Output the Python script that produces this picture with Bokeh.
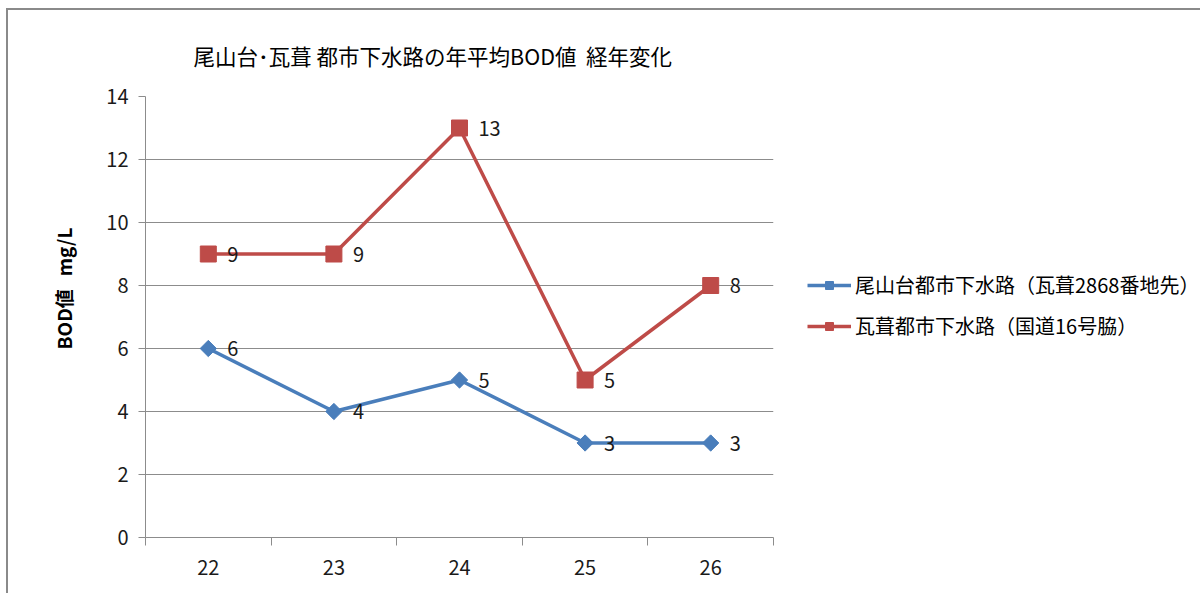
import math
from bokeh.plotting import figure
from bokeh.models import (ColumnDataSource, FixedTicker, Legend, LegendItem, Range1d)
from bokeh.embed import file_html
from bokeh.resources import INLINE
from bokeh.core.properties import value

years = [22, 23, 24, 25, 26]
series1_name = "尾山台都市下水路（瓦葺2868番地先）"
series1 = [6, 4, 5, 3, 3]
series2_name = "瓦葺都市下水路（国道16号脇）"
series2 = [9, 9, 13, 5, 8]
y_ticks = [0, 2, 4, 6, 8, 10, 12, 14]
title_text = "尾山台･瓦葺\u00a0都市下水路の年平均BOD値\u00a0\u00a0経年変化"
y_label = "\u3000\u3000\u3000BOD値\u00a0\u00a0\u00a0mg/L"

BLUE = "#4A7EBB"
RED = "#BE4B48"
FONT = "Noto Sans CJK JP"

p = figure(frame_width=628, frame_height=441, output_backend="svg", toolbar_location=None,
           x_range=Range1d(21.5, 26.5), y_range=Range1d(0, 14),
           min_border_left=137, min_border_right=420, min_border_top=86, min_border_bottom=56,
           styles={"border-left": "2px solid #8a8a8a", "border-top": "2px solid #8a8a8a",
                   "margin-left": "6px", "margin-top": "8px"})
p.outline_line_color = None
p.background_fill_color = "white"
p.border_fill_color = "white"

p.title.text = title_text
p.title.text_font = FONT
p.title.text_font_size = "21.5px"
p.title.text_font_style = "normal"
p.title.text_color = "#000000"
p.title.align = "left"
p.title.offset = 48
p.title.standoff = 52

# grids
p.xgrid.grid_line_color = None
p.ygrid.grid_line_color = "#8c8c8c"
p.ygrid.grid_line_width = 1

# y axis
p.yaxis.ticker = FixedTicker(ticks=y_ticks)
p.yaxis.axis_line_color = "#8c8c8c"
p.yaxis.major_tick_line_color = "#8c8c8c"
p.yaxis.major_tick_out = 7
p.yaxis.major_tick_in = 0
p.yaxis.minor_tick_line_color = None
p.yaxis.major_label_text_font = FONT
p.yaxis.major_label_text_font_size = "20px"
p.yaxis.major_label_text_color = "#1a1a1a"
p.yaxis.major_label_standoff = 10
p.yaxis.axis_label = y_label
p.yaxis.axis_label_text_font = FONT
p.yaxis.axis_label_text_font_size = "19px"
p.yaxis.axis_label_text_font_style = "bold"
p.yaxis.axis_label_text_color = "#000000"
p.yaxis.axis_label_standoff = 26

# x axis
bounds = [y - 0.5 for y in years] + [years[-1] + 0.5]
p.xaxis.ticker = FixedTicker(ticks=years, minor_ticks=bounds)
p.xaxis.axis_line_color = "#8c8c8c"
p.xaxis.major_tick_line_color = None
p.xaxis.major_tick_out = 0
p.xaxis.major_tick_in = 0
p.xaxis.minor_tick_line_color = "#8c8c8c"
p.xaxis.minor_tick_out = 8
p.xaxis.minor_tick_in = 0
p.xaxis.major_label_text_font = FONT
p.xaxis.major_label_text_font_size = "20px"
p.xaxis.major_label_text_color = "#1a1a1a"
p.xaxis.major_label_standoff = 14

src = ColumnDataSource(dict(x=years, s1=series1, s2=series2,
                            l1=[str(v) for v in series1], l2=[str(v) for v in series2]))

l1 = p.line("x", "s1", source=src, line_color=BLUE, line_width=3.5)
m1 = p.scatter("x", "s1", source=src, marker="square", size=11.5, angle=math.pi / 4,
               fill_color=BLUE, line_color=BLUE)
l2 = p.line("x", "s2", source=src, line_color=RED, line_width=3.5)
m2 = p.scatter("x", "s2", source=src, marker="square", size=16, fill_color=RED, line_color=RED)

p.text("x", "s1", text="l1", source=src, x_offset=19, text_baseline="middle", text_align="left",
       text_font=value(FONT), text_font_size="20px", text_color="#1a1a1a")
p.text("x", "s2", text="l2", source=src, x_offset=19, text_baseline="middle", text_align="left",
       text_font=value(FONT), text_font_size="20px", text_color="#1a1a1a")

legend = Legend(items=[LegendItem(label=series1_name, renderers=[l1, m1]),
                       LegendItem(label=series2_name, renderers=[l2, m2])],
                location=(34, 197), orientation="vertical")
legend.border_line_color = None
legend.background_fill_alpha = 0
legend.margin = 8
legend.padding = 8
legend.glyph_width = 44
legend.glyph_height = 20
legend.spacing = 12
legend.label_standoff = 4
legend.label_text_font = FONT
legend.label_text_font_size = "20px"
legend.label_text_color = "#000000"
p.add_layout(legend, "right")

open("out.html", "w").write(file_html(p, INLINE))
